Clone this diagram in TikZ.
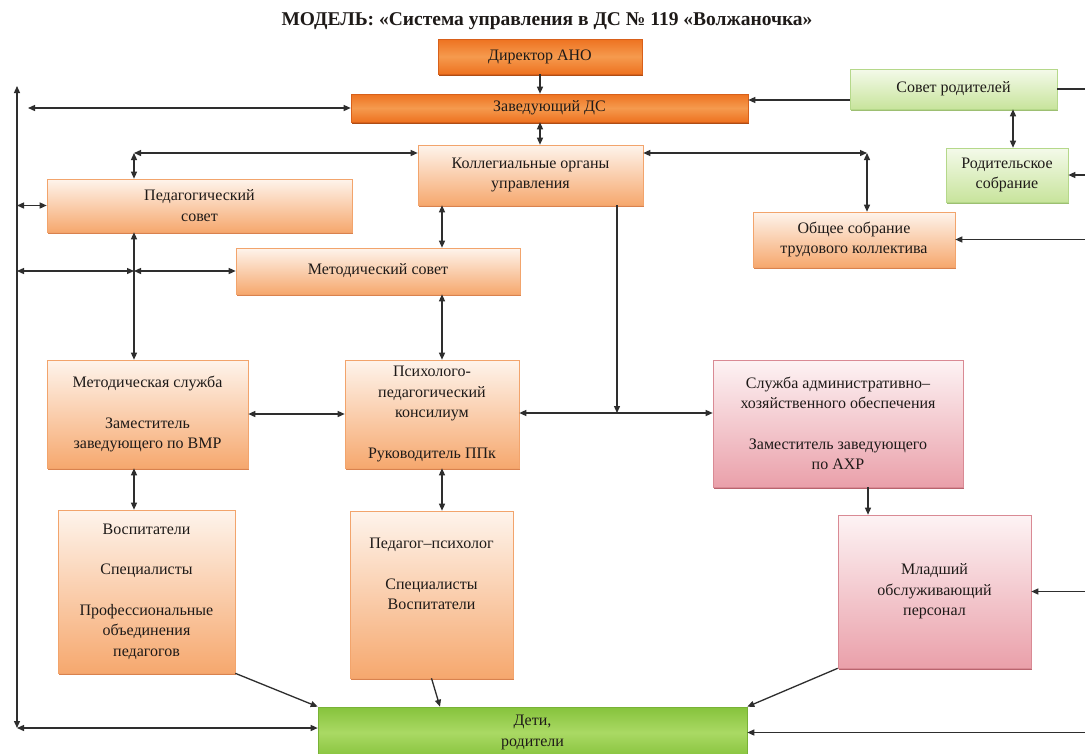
\documentclass[tikz,border=0pt]{standalone}
\usepackage{fontspec}
\setmainfont{Liberation Serif}
\usetikzlibrary{arrows.meta,shadows}
\definecolor{txt}{HTML}{1E1A18}
\definecolor{linec}{HTML}{2E2E2E}
\definecolor{otop}{HTML}{FEF4EC}
\definecolor{obot}{HTML}{F6A86E}
\definecolor{oborder}{HTML}{F2A46C}
\definecolor{oshadow}{HTML}{D9824E}
\definecolor{dorange}{HTML}{EE7220}
\definecolor{dmid}{HTML}{F59A4E}
\definecolor{dborder}{HTML}{D8601A}
\definecolor{gtop}{HTML}{F4FAEA}
\definecolor{gbot}{HTML}{C8E49C}
\definecolor{gborder}{HTML}{B5D88A}
\definecolor{gshadow}{HTML}{9DBF72}
\definecolor{ptop}{HTML}{FDF3F4}
\definecolor{pbot}{HTML}{EAA0AA}
\definecolor{pborder}{HTML}{D98A94}
\definecolor{pshadow}{HTML}{B9646E}
\definecolor{kgreen}{HTML}{86C33C}
\definecolor{kmid}{HTML}{AAD964}
\definecolor{kborder}{HTML}{78B236}
\tikzset{
  base/.style={rectangle, align=center, inner sep=2pt, text=txt, line width=0.6pt,
    font=\fontsize{16}{20.5}\selectfont},
  obox/.style={base, draw=oborder, top color=otop, bottom color=obot,
    drop shadow={shadow xshift=1.2pt, shadow yshift=-2pt, fill=oshadow, opacity=1}},
  dbox/.style={base, draw=dborder, top color=dorange, bottom color=dorange, middle color=dmid,
    drop shadow={shadow xshift=1.2pt, shadow yshift=-2pt, fill=dborder!80!black, opacity=1}},
  gbox/.style={base, draw=gborder, top color=gtop, bottom color=gbot,
    drop shadow={shadow xshift=1.2pt, shadow yshift=-2pt, fill=gshadow, opacity=1}},
  pbox/.style={base, draw=pborder, top color=ptop, bottom color=pbot,
    drop shadow={shadow xshift=1.2pt, shadow yshift=-2pt, fill=pshadow, opacity=1}},
  kbox/.style={base, draw=kborder, top color=kgreen, bottom color=kgreen, middle color=kmid},
  conn/.style={draw=linec, line width=1.3pt},
  arr/.style={conn, -{Triangle[length=7pt,width=6pt]}},
  biarr/.style={conn, {Triangle[length=7pt,width=6pt]}-{Triangle[length=7pt,width=6pt]}},
}
\begin{document}
\begin{tikzpicture}[x=1pt,y=-1pt]
\useasboundingbox (0,0) rectangle (1085,753);
\fill[white] (0,0) rectangle (1085,753);

\node[font=\bfseries\fontsize{19.5}{23}\selectfont, text=txt] (title) at (547,21)
  {МОДЕЛЬ: «Система управления в ДС № 119 «Волжаночка»};

% boxes
\node[dbox, minimum width=204pt, minimum height=35pt] (dir) at (540,56.5) {Директор АНО};
\node[dbox, minimum width=397pt, minimum height=28pt] (zav) at (549.5,108) {Заведующий ДС};
\node[gbox, minimum width=207pt, minimum height=40pt] (sovet) at (953.5,89) {Совет родителей};
\node[gbox, minimum width=122pt, minimum height=54pt] (rodsob) at (1007,175) {Родительское\\собрание};
\node[obox, minimum width=225pt, minimum height=60pt] (koll) at (530.5,175) {Коллегиальные органы\\управления};
\node[obox, minimum width=202pt, minimum height=55pt] (obsh) at (854,239.5) {Общее собрание\\трудового коллектива};
\node[obox, minimum width=305pt, minimum height=53pt] (ped) at (199.5,205.5) {Педагогический\\совет};
\node[obox, minimum width=284pt, minimum height=46pt] (met) at (378,271) {Методический совет};
\node[obox, minimum width=201pt, minimum height=108pt] (mslu) at (147.5,414)
  {Методическая служба\\[20pt]Заместитель\\заведующего по ВМР};
\node[obox, minimum width=174pt, minimum height=108pt] (ppk) at (432,414)
  {Психолого-\\педагогический\\консилиум\\[20pt]Руководитель ППк};
\node[pbox, minimum width=250pt, minimum height=127pt] (axo) at (838,423.5)
  {Служба административно–\\хозяйственного обеспечения\\[20pt]Заместитель заведующего\\по АХР};
\node[obox, minimum width=177pt, minimum height=163pt] (vosp) at (146.5,591.5)
  {Воспитатели\\[20pt]Специалисты\\[20pt]Профессиональные\\объединения\\педагогов};
\node[obox, minimum width=163pt, minimum height=167pt] (pedpsy) at (431.5,594.5)
  {Педагог–психолог\\[20pt]Специалисты\\Воспитатели\\[20pt]\mbox{}};
\node[pbox, minimum width=193pt, minimum height=153pt] (mlad) at (934.5,591.5)
  {Младший\\обслуживающий\\персонал};
\node[kbox, minimum width=429pt, minimum height=51pt] (deti) at (532.5,732.5) {Дети,\\родители};

% helper coordinates
\coordinate (re) at (1085,0);
\coordinate (ltop) at (17,86);
\coordinate (lbot) at (17,728);
\coordinate (l2) at (28,0);
\coordinate (xp) at (134,0);
\coordinate (ky) at (0,153);
\coordinate (xo) at (867,0);
\coordinate (xm) at (442,0);
\coordinate (xj) at (617,0);
\coordinate (j) at (617,413);
\coordinate (xa) at (868,0);
\coordinate (xr) at (1013,0);
\coordinate (ys) at (0,100);
\coordinate (xd) at (440,0);

% connectors
\draw[arr] (dir.south) -- (dir.south |- zav.north);
\draw[biarr] (zav.south -| dir.south) -- (koll.north -| dir.south);
\draw[arr] (ys -| sovet.west) -- (ys -| zav.east);
\draw[conn] (sovet.east) -- (sovet.east -| re);
\draw[biarr] (xr |- sovet.south) -- (xr |- rodsob.north);
\draw[arr] (rodsob.east -| re) -- (rodsob.east);
\draw[arr] (obsh.east -| re) -- (obsh.east);
\draw[arr] (mlad.east -| re) -- (mlad.east);
\draw[arr] (deti.east -| re) -- (deti.east);

\draw[biarr] (ltop) -- (lbot);
\draw[biarr] (lbot) -- (deti.west |- lbot);
\draw[biarr] (l2 |- zav.west) -- (zav.west);
\draw[biarr] (ped.west -| ltop) -- (ped.west);
\draw[biarr] (met.west -| ltop) -- (xp |- met.west);
\draw[biarr] (xp |- met.west) -- (met.west);

\draw[biarr] (xp |- ky) -- (koll.west |- ky);
\draw[biarr] (xp |- ky) -- (xp |- ped.north);
\draw[biarr] (koll.east |- ky) -- (xo |- ky);
\draw[biarr] (xo |- ky) -- (xo |- obsh.north);

\draw[biarr] (xp |- ped.south) -- (xp |- mslu.north);
\draw[biarr] (xp |- mslu.south) -- (xp |- vosp.north);
\draw[biarr] (xm |- koll.south) -- (xm |- met.north);
\draw[biarr] (xm |- met.south) -- (xm |- ppk.north);
\draw[biarr] (xm |- ppk.south) -- (xm |- pedpsy.north);
\draw[biarr] (mslu.east) -- (ppk.west);

\draw[arr] (xj |- koll.south) -- (j);
\draw[arr] (j) -- (ppk.east |- j);
\draw[arr] (j) -- (axo.west |- j);
\draw[arr] (xa |- axo.south) -- (xa |- mlad.north);

\draw[arr] (vosp.south east) -- (deti.north west);
\draw[arr] (pedpsy.south) -- (xd |- deti.north);
\draw[arr] (mlad.south west) -- (deti.north east);
\end{tikzpicture}
\end{document}
